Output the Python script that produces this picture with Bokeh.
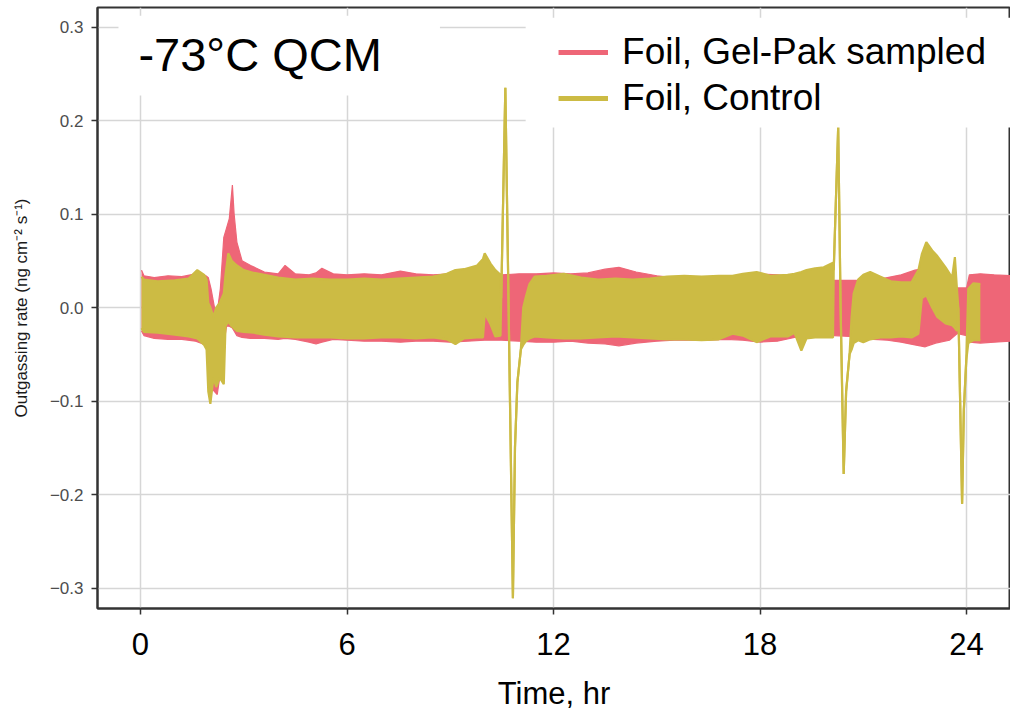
from bokeh.plotting import figure
from bokeh.models import (Range1d, FixedTicker, Label, BoxAnnotation, Legend,
                          LegendItem, ColumnDataSource)
from bokeh.embed import file_html
from bokeh.resources import INLINE

# ---------------- data ----------------
series_names = ["Foil, Gel-Pak sampled", "Foil, Control"]
x_ticks = [0, 6, 12, 18, 24]
x_tick_labels = ["0", "6", "12", "18", "24"]
y_ticks = [-0.3, -0.2, -0.1, 0.0, 0.1, 0.2, 0.3]
y_tick_labels = ["\u22120.3", "\u22120.2", "\u22120.1", "0.0", "0.1", "0.2", "0.3"]

# Gel-Pak sampled: time (hr), upper and lower envelope of the oscillating signal
gel_t = [0.03, 0.1, 0.4, 0.8, 1.2, 1.6, 1.9, 1.97, 2.05, 2.15, 2.23, 2.32, 2.42,
         2.5, 2.58, 2.67, 2.72, 2.8, 2.95, 3.2, 3.6, 4.0, 4.2, 4.5, 4.9, 5.1,
         5.27, 5.6, 6.0, 6.5, 7.0, 7.55, 8.0, 8.5, 9.0, 9.5, 10.0, 10.5, 11.0,
         11.5, 12.0, 12.5, 13.0, 13.5, 13.9, 14.4, 15.0, 15.5, 16.0, 16.5, 17.0,
         17.5, 18.0, 18.5, 19.0, 19.5, 20.0, 20.15, 20.6, 20.9, 21.3, 21.7,
         22.1, 22.5, 22.8, 23.1, 23.5, 23.72, 23.75, 24.0, 24.08, 24.4, 24.8, 25.3]
gel_hi = [0.040, 0.034, 0.032, 0.034, 0.033, 0.036, 0.034, 0.032, 0.020, 0.000,
          -0.005, 0.020, 0.075, 0.085, 0.095, 0.131, 0.100, 0.070, 0.050, 0.045,
          0.038, 0.036, 0.045, 0.036, 0.035, 0.037, 0.042, 0.036, 0.035, 0.036,
          0.035, 0.039, 0.036, 0.035, 0.036, 0.036, 0.036, 0.035, 0.036, 0.036,
          0.037, 0.036, 0.037, 0.041, 0.043, 0.038, 0.034, 0.032, 0.032, 0.031,
          0.032, 0.033, 0.036, 0.035, 0.033, 0.031, 0.029, 0.029, 0.029, 0.029,
          0.029, 0.032, 0.035, 0.040, 0.042, 0.040, 0.035, 0.021, 0.021, 0.021,
          0.035, 0.036, 0.035, 0.034]
gel_lo = [-0.025, -0.030, -0.033, -0.034, -0.034, -0.036, -0.040, -0.060, -0.085,
          -0.090, -0.093, -0.070, -0.040, -0.020, -0.020, -0.022, -0.025, -0.030,
          -0.032, -0.033, -0.033, -0.034, -0.033, -0.034, -0.037, -0.039, -0.037,
          -0.034, -0.035, -0.036, -0.036, -0.037, -0.036, -0.036, -0.037, -0.036,
          -0.035, -0.035, -0.036, -0.037, -0.037, -0.036, -0.038, -0.039, -0.041,
          -0.038, -0.036, -0.035, -0.035, -0.035, -0.034, -0.035, -0.037, -0.036,
          -0.032, -0.031, -0.030, -0.030, -0.031, -0.034, -0.034, -0.035, -0.037,
          -0.040, -0.042, -0.038, -0.035, -0.028, -0.028, -0.030, -0.037, -0.038,
          -0.037, -0.036]

# Control: time (hr), upper and lower envelope (spikes where both meet)
ctl_t = [0.03, 0.1, 0.5, 1.0, 1.4, 1.65, 1.85, 1.92, 1.97, 2.03, 2.12, 2.2, 2.3,
         2.42, 2.47, 2.55, 2.65, 2.8, 3.0, 3.3, 3.6, 4.0, 4.5, 5.0, 5.5, 6.0, 6.5,
         7.0, 7.5, 8.0, 8.5, 8.9, 9.15, 9.4, 9.78, 9.95, 10.0, 10.17, 10.31, 10.46,
         10.48, 10.6, 10.82, 10.88, 10.95, 11.05, 11.12, 11.2, 11.3, 11.45, 11.8,
         12.3, 12.8, 13.3, 13.8, 14.3, 14.8, 15.3, 15.8, 16.3, 16.8, 17.2, 17.5,
         17.9, 18.3, 18.8, 19.0, 19.2, 19.35, 19.6, 19.85, 20.12, 20.14, 20.27,
         20.34, 20.43, 20.5, 20.6, 20.66, 20.72, 20.85, 21.0, 21.2, 21.5, 21.8,
         22.1, 22.4, 22.6, 22.7, 22.83, 23.0, 23.15, 23.39, 23.58, 23.66, 23.72,
         23.76, 23.87, 23.92, 23.99, 24.05, 24.2, 24.4]
ctl_hi = [0.033, 0.030, 0.028, 0.029, 0.031, 0.040, 0.035, 0.030, 0.005, 0.000,
          -0.010, 0.000, 0.005, 0.015, 0.035, 0.058, 0.050, 0.045, 0.040, 0.037,
          0.035, 0.032, 0.030, 0.031, 0.030, 0.030, 0.031, 0.030, 0.031, 0.032,
          0.033, 0.036, 0.040, 0.041, 0.045, 0.052, 0.058, 0.047, 0.040, 0.035,
          0.010, 0.235, -0.311, -0.150, -0.080, -0.045, 0.000, 0.012, 0.025, 0.033,
          0.034, 0.036, 0.032, 0.030, 0.031, 0.030, 0.031, 0.033, 0.034, 0.033,
          0.034, 0.034, 0.036, 0.038, 0.034, 0.035, 0.036, 0.038, 0.040, 0.042,
          0.043, 0.048, 0.040, 0.193, 0.000, -0.178, -0.090, -0.050, -0.010, 0.015,
          0.030, 0.035, 0.038, 0.033, 0.028, 0.027, 0.027, 0.040, 0.057, 0.070,
          0.061, 0.055, 0.043, 0.032, 0.054, 0.020, 0.000, -0.210, -0.110, -0.057,
          0.020, 0.026, 0.025]
ctl_lo = [-0.022, -0.026, -0.027, -0.029, -0.031, -0.033, -0.040, -0.045, -0.090,
          -0.103, -0.075, -0.085, -0.075, -0.082, -0.020, -0.015, -0.020, -0.025,
          -0.026, -0.027, -0.029, -0.031, -0.032, -0.032, -0.032, -0.033, -0.033,
          -0.032, -0.032, -0.033, -0.032, -0.034, -0.039, -0.033, -0.032, -0.032,
          -0.006, -0.018, -0.031, -0.030, 0.010, 0.235, -0.311, -0.150, -0.080,
          -0.045, -0.040, -0.036, -0.033, -0.031, -0.032, -0.033, -0.033, -0.032,
          -0.031, -0.032, -0.033, -0.034, -0.034, -0.035, -0.034, -0.028, -0.030,
          -0.037, -0.031, -0.031, -0.027, -0.046, -0.033, -0.032, -0.032, -0.032,
          0.040, 0.193, 0.000, -0.178, -0.090, -0.050, -0.045, -0.038, -0.035,
          -0.037, -0.034, -0.032, -0.032, -0.031, -0.032, -0.028, 0.010, 0.013,
          0.000, -0.010, -0.017, -0.019, -0.022, -0.025, 0.000, -0.210, -0.110,
          -0.057, -0.038, -0.035, -0.035]

PINK = "#EE6677"
YELLOW = "#CCBB44"
FONT = "Liberation Sans"

# ---------------- figure ----------------
p = figure(width=1010, height=715,
           x_range=Range1d(-1.249, 25.276), y_range=Range1d(-0.3219, 0.3209),
           output_backend="svg", toolbar_location=None,
           min_border_left=97, min_border_right=0, min_border_top=7,
           min_border_bottom=107,
           background_fill_color="white", border_fill_color="white",
           outline_line_color="#333333", outline_line_width=2)

p.xaxis.ticker = FixedTicker(ticks=x_ticks)
p.yaxis.ticker = FixedTicker(ticks=y_ticks)
p.xaxis.major_label_overrides = dict(zip(x_ticks, x_tick_labels))
p.yaxis.major_label_overrides = dict(zip(y_ticks, y_tick_labels))

for g in (p.xgrid, p.ygrid):
    g.grid_line_color = "#d6d6d6"
    g.grid_line_width = 1.5

for ax in (p.xaxis, p.yaxis):
    ax.axis_line_color = "#333333"
    ax.axis_line_width = 2
    ax.major_tick_line_color = "#333333"
    ax.major_tick_line_width = 1.5
    ax.major_tick_out = 6
    ax.major_tick_in = 0
    ax.minor_tick_line_color = None
    ax.major_label_text_font = FONT
    ax.axis_label_text_font = FONT
    ax.axis_label_text_font_style = "normal"

p.xaxis.major_label_text_font_size = "31px"
p.xaxis.major_label_text_color = "black"
p.xaxis.major_label_standoff = 18
p.xaxis.axis_label = "Time, hr"
p.xaxis.axis_label_text_font_size = "31px"
p.xaxis.axis_label_text_color = "black"
p.xaxis.axis_label_standoff = 18

p.yaxis.major_label_text_font_size = "17px"
p.yaxis.major_label_text_color = "#4d4d4d"
p.yaxis.major_label_standoff = 8
p.yaxis.axis_label = "Outgassing rate (ng cm\u207b\u00b2 s\u207b\u00b9)"
p.yaxis.axis_label_text_font_size = "17px"
p.yaxis.axis_label_text_color = "#1a1a1a"
p.yaxis.axis_label_standoff = 16

# ---------------- data marks ----------------
gel_src = ColumnDataSource(dict(t=gel_t, hi=gel_hi, lo=gel_lo))
ctl_src = ColumnDataSource(dict(t=ctl_t, hi=ctl_hi, lo=ctl_lo))

p.varea(x="t", y1="lo", y2="hi", source=gel_src, fill_color=PINK)
p.line(x="t", y="hi", source=gel_src, line_color=PINK, line_width=1.2)
p.line(x="t", y="lo", source=gel_src, line_color=PINK, line_width=1.2)

p.varea(x="t", y1="lo", y2="hi", source=ctl_src, fill_color=YELLOW)
p.line(x="t", y="hi", source=ctl_src, line_color=YELLOW, line_width=2.2)
p.line(x="t", y="lo", source=ctl_src, line_color=YELLOW, line_width=2.2)

# white boxes behind the title and legend (they cover the grid, as in the original)
p.add_layout(BoxAnnotation(left=-0.64, right=8.7, bottom=0.2267, top=0.312,
                           fill_color="white", fill_alpha=1.0, line_color=None))
p.add_layout(BoxAnnotation(left=11.19, right=26, bottom=0.1925, top=0.310,
                           fill_color="white", fill_alpha=1.0, line_color=None))

p.add_layout(Label(x=-0.06, y=0.2703, text="-73\u00b0C QCM", text_font=FONT,
                   text_font_size="47px", text_color="black",
                   text_baseline="alphabetic"))

# legend keys: one-point lines (draw nothing in the plot, only the key)
leg_gel = p.line(x=gel_t[:1], y=gel_hi[:1], line_color=PINK, line_width=5)
leg_ctl = p.line(x=ctl_t[:1], y=ctl_hi[:1], line_color=YELLOW, line_width=5)
legend = Legend(items=[LegendItem(label=series_names[0], renderers=[leg_gel]),
                       LegendItem(label=series_names[1], renderers=[leg_ctl])],
                location="top_right", margin=24, padding=8, spacing=4,
                label_text_font=FONT, label_text_font_size="37px",
                label_text_color="black", glyph_width=50, glyph_height=40,
                label_height=40, label_standoff=14,
                background_fill_alpha=0.0, border_line_color=None)
p.add_layout(legend)

open("out.html", "w").write(file_html(p, INLINE))
